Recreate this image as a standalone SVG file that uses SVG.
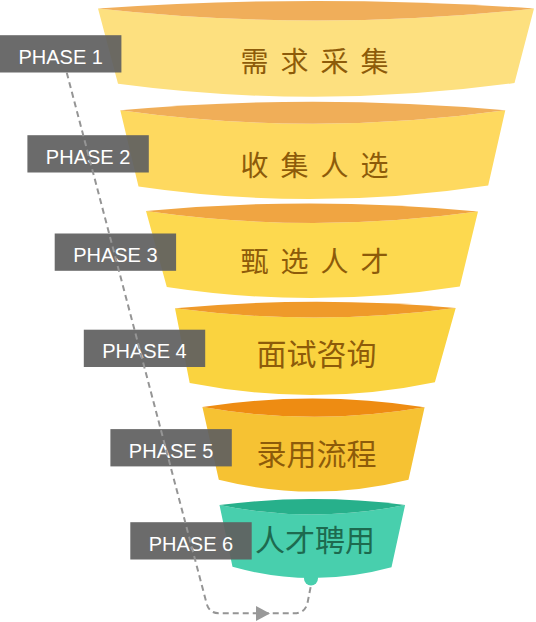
<svg xmlns="http://www.w3.org/2000/svg" width="536" height="622" viewBox="0 0 536 622">
<style>
.lbl rect{fill:#606060;opacity:0.93}
.lbl text{font-family:"Liberation Sans",Arial,sans-serif;font-size:20px;fill:#ffffff;text-anchor:middle}
.cn{font-family:"Noto Sans CJK SC","Noto Sans",sans-serif;text-anchor:middle}
.sp{font-size:28px}
.ns{font-size:30px}
.brown{fill:#8d5b0a}
.green{fill:#1d6a4f}
.conn{fill:none;stroke:#959595;stroke-width:2;stroke-dasharray:6 4}
</style>
<defs>
<marker id="arr" markerWidth="14" markerHeight="16" refX="7" refY="8" orient="auto" markerUnits="userSpaceOnUse">
<path d="M0,0 L14,8 L0,16 Z" fill="#999999"/>
</marker>
</defs>

<g id="stage1">
<path d="M98,8.5 Q316,32.5 534,8.5 L514.5,83 Q316,110.2 118,83.8 Z" fill="#fde07f"/>
<path d="M98,8.5 Q316,-6.5 534,8.5 Q316,32.5 98,8.5 Z" fill="#f0ae5a"/>
<text class="cn sp brown" y="71.5"><tspan x="254.5">需</tspan><tspan x="294.5">求</tspan><tspan x="334.5">采</tspan><tspan x="374.5">集</tspan></text>
</g>

<g id="stage2">
<path d="M120.3,110.3 Q312.8,137.3 505.3,110.3 L488.2,185.5 Q312.8,212.2 138.5,186.5 Z" fill="#fed95f"/>
<path d="M120.3,110.3 Q312.8,93.1 505.3,110.3 Q312.8,137.3 120.3,110.3 Z" fill="#f0ae58"/>
<text class="cn sp brown" y="176"><tspan x="254.5">收</tspan><tspan x="294.5">集</tspan><tspan x="334.5">人</tspan><tspan x="374.5">选</tspan></text>
</g>

<g id="stage3">
<path d="M146,211 Q312,234.6 478,211.5 L459.8,286.5 Q312,309.4 166.8,287 Z" fill="#fdd94f"/>
<path d="M146,211 Q312,195.6 478,211.5 Q312,234.6 146,211 Z" fill="#f0a542"/>
<text class="cn sp brown" y="271.5"><tspan x="254.5">甄</tspan><tspan x="294.5">选</tspan><tspan x="334.5">人</tspan><tspan x="374.5">才</tspan></text>
</g>

<g id="stage4">
<path d="M175,308.3 Q315,326.8 455.7,308 L434.9,382.2 Q315,407.4 189.7,383 Z" fill="#fad33f"/>
<path d="M175,308.3 Q315,295.4 455.7,308 Q315,326.8 175,308.3 Z" fill="#ef9a2a"/>
<text class="cn ns brown" x="316.6" y="365.3">面试咨询</text>
</g>

<g id="stage5">
<path d="M202.4,407 Q313.5,426.5 424.6,407.3 L408.5,479.7 Q313.5,503.5 218.8,479.7 Z" fill="#f6c233"/>
<path d="M202.4,407 Q313.5,390 424.6,407.3 Q313.5,426.5 202.4,407 Z" fill="#ee8c12"/>
<text class="cn ns brown" x="316.6" y="464.6">录用流程</text>
</g>

<g id="stage6">
<circle cx="311" cy="578.5" r="7" fill="#48cfad"/>
<path d="M219.5,505 Q312,523.8 405.1,505 L391.5,567.2 Q312,589 232.5,566.8 Z" fill="#48cfad"/>
<path d="M219.5,505 Q312,493.2 405.1,505 Q312,523.8 219.5,505 Z" fill="#27b08b"/>
</g>

<g id="phase1" class="lbl"><rect x="0" y="35.2" width="121.4" height="37.3"/><text x="60.7" y="63.9">PHASE 1</text></g>
<g id="phase2" class="lbl"><rect x="27.4" y="135.2" width="121.4" height="37.3"/><text x="88.1" y="163.9">PHASE 2</text></g>
<g id="phase3" class="lbl"><rect x="54.7" y="233.5" width="121.4" height="37.3"/><text x="115.4" y="262.2">PHASE 3</text></g>
<g id="phase4" class="lbl"><rect x="83.8" y="329.7" width="121.4" height="37.3"/><text x="144.5" y="358.4">PHASE 4</text></g>
<g id="phase5" class="lbl"><rect x="110.4" y="429.1" width="121.4" height="37.3"/><text x="171.1" y="457.8">PHASE 5</text></g>
<g id="phase6" class="lbl"><rect x="130.3" y="522.2" width="121.4" height="37.3"/><text x="191" y="550.9">PHASE 6</text></g>

<g id="stage6-label">
<text class="cn ns green" x="314.9" y="551">人才聘用</text>
</g>

<g id="connectors">
<path class="conn" d="M66.7,72.5 L206.5,603 Q209,613.3 219,613.3 L294,613.3 Q305,613.3 307.5,603 L311,585"/>
<path d="M256,606 L270,613.5 L256,621 Z" fill="#999999"/>
</g>
</svg>
